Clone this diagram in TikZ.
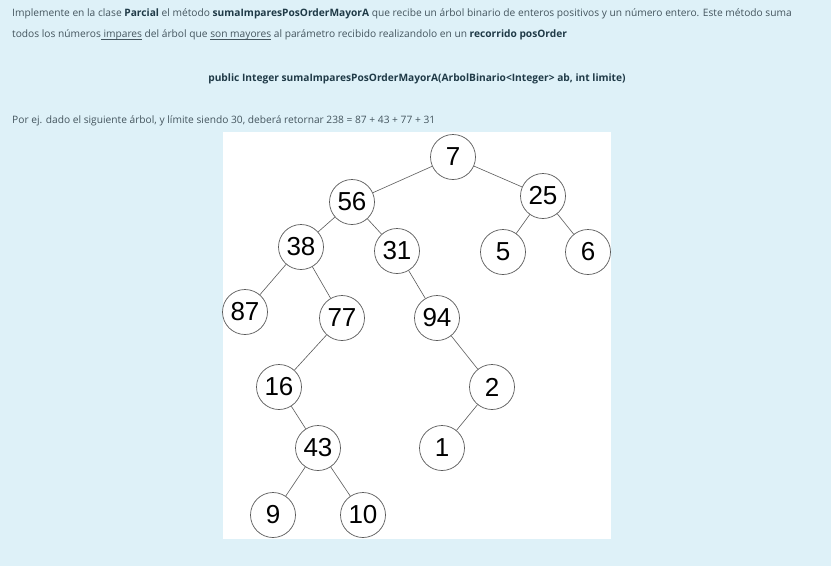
\documentclass[tikz,border=0pt]{standalone}
\usepackage{fontspec}
\setmainfont{Open Sans}
\newfontfamily\treefont{Liberation Sans}
\usetikzlibrary{positioning}
\definecolor{panelbg}{HTML}{DEF1F8}
\definecolor{bodytext}{HTML}{44555E}
\definecolor{boldtext}{HTML}{1F3A47}
\definecolor{edgegray}{HTML}{5A5A5A}
\newcommand{\ulword}[1]{\underline{\smash{#1}}}

\begin{document}
\begin{tikzpicture}[x=1pt,y=-1pt,
  txt/.style={anchor=west,inner sep=0pt,text=bodytext,font=\fontsize{10.2}{12}\selectfont},
  vertex/.style={circle,draw=edgegray,line width=0.7pt,fill=white,minimum size=45pt,inner sep=0pt,font=\treefont\fontsize{26}{26}\selectfont},
  branch/.style={edgegray,line width=0.6pt}]
\fill[panelbg] (0,0) rectangle (831,566);
\fill[white] (223,132) rectangle (611,539);

\node[txt] (line1) at (12,14) {Implemente en la clase \textbf{\color{boldtext}Parcial} el método \textbf{\color{boldtext}sumaImparesPosOrderMayorA} que recibe un árbol binario de enteros positivos y un número entero. Este método suma};
\node[txt] (line2) at (12,35) {todos los números\ulword{ impares} del árbol que \ulword{son mayores} al parámetro recibido realizandolo en un \textbf{\color{boldtext}recorrido posOrder}};
\node[txt,anchor=center] (sig) at (417,79) {\textbf{\color{boldtext}public Integer sumaImparesPosOrderMayorA(ArbolBinario<Integer> ab, int limite)}};
\node[txt] (ej) at (12,121) {Por ej. dado el siguiente árbol, y límite siendo 30, deberá retornar 238 = 87 + 43 + 77 + 31};

% nodos del arbol
\node[vertex] (n7)  at (453,157) {7};
\node[vertex] (n56) at (352,202) {56};
\node[vertex] (n25) at (543,196) {25};
\node[vertex] (n38) at (301,247) {38};
\node[vertex] (n31) at (397,251) {31};
\node[vertex] (n5)  at (503,252) {5};
\node[vertex] (n6)  at (588,252) {6};
\node[vertex] (n87) at (245,312) {87};
\node[vertex] (n77) at (342,318) {77};
\node[vertex] (n94) at (437,318) {94};
\node[vertex] (n16) at (279,387) {16};
\node[vertex] (n2)  at (492,387) {2};
\node[vertex] (n43) at (318,448) {43};
\node[vertex] (n1)  at (442,448) {1};
\node[vertex] (n9)  at (273,515) {9};
\node[vertex] (n10) at (363,515) {10};

% aristas
\draw[branch] (n7) -- (n56);
\draw[branch] (n7) -- (n25);
\draw[branch] (n56) -- (n38);
\draw[branch] (n56) -- (n31);
\draw[branch] (n25) -- (n5);
\draw[branch] (n25) -- (n6);
\draw[branch] (n38) -- (n87);
\draw[branch] (n38) -- (n77);
\draw[branch] (n31) -- (n94);
\draw[branch] (n77) -- (n16);
\draw[branch] (n94) -- (n2);
\draw[branch] (n16) -- (n43);
\draw[branch] (n2) -- (n1);
\draw[branch] (n43) -- (n9);
\draw[branch] (n43) -- (n10);
\end{tikzpicture}
\end{document}
